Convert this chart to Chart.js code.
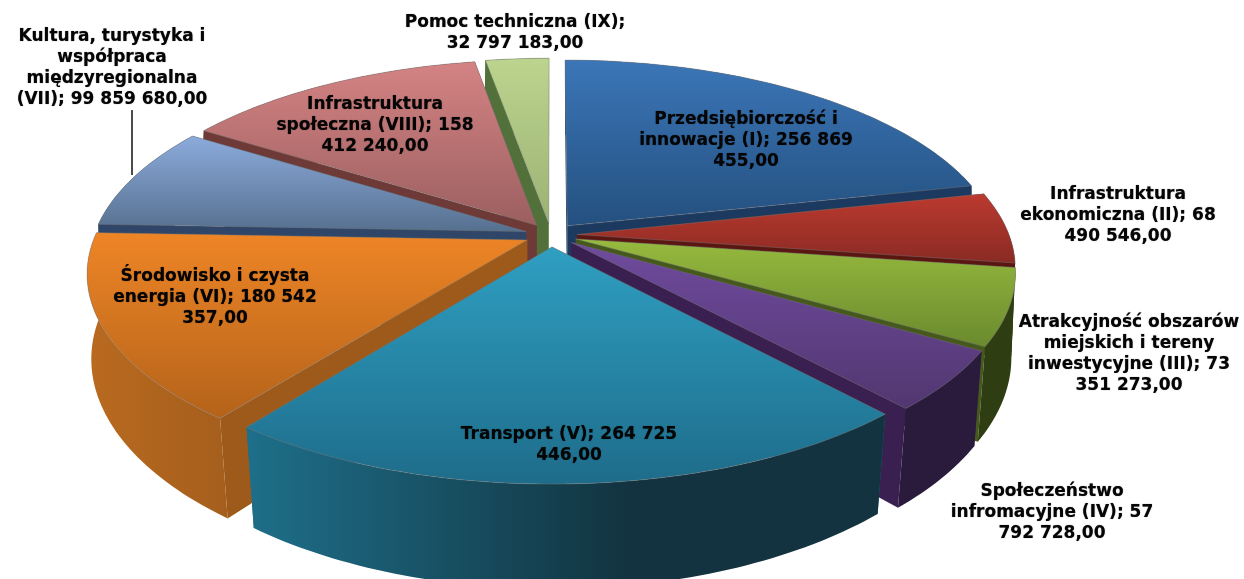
<!DOCTYPE html>
<html lang="pl">
<head>
<meta charset="utf-8">
<title>Alokacja środków</title>
<script src="https://cdn.jsdelivr.net/npm/chart.js@4"></script>
<style>
  html, body { margin: 0; padding: 0; background: #fff; overflow: hidden; }
  #chart { display: block; }
</style>
</head>
<body>
<canvas id="chart" width="1244" height="579"></canvas>
<script>
var categories = [
  "Przedsiębiorczość i innowacje (I)",
  "Infrastruktura ekonomiczna (II)",
  "Atrakcyjność obszarów miejskich i tereny inwestycyjne (III)",
  "Społeczeństwo infromacyjne (IV)",
  "Transport (V)",
  "Środowisko i czysta energia (VI)",
  "Kultura, turystyka i współpraca międzyregionalna (VII)",
  "Infrastruktura społeczna (VIII)",
  "Pomoc techniczna (IX)",
];
var values = [
  256869455, 68490546, 73351273, 57792728, 264725446, 180542357, 99859680,
  158412240, 32797183,
];

var labelLines = [
  ["Przedsiębiorczość i", "innowacje (I); 256 869", "455,00"],
  ["Infrastruktura", "ekonomiczna (II); 68", "490 546,00"],
  ["Atrakcyjność obszarów", "miejskich i tereny", "inwestycyjne (III); 73", "351 273,00"],
  ["Społeczeństwo", "infromacyjne (IV); 57", "792 728,00"],
  ["Transport (V); 264 725", "446,00"],
  ["Środowisko i czysta", "energia (VI); 180 542", "357,00"],
  ["Kultura, turystyka i", "współpraca", "międzyregionalna", "(VII); 99 859 680,00"],
  ["Infrastruktura", "społeczna (VIII); 158", "412 240,00"],
  ["Pomoc techniczna (IX);", "32 797 183,00"],
];
var labelX = [746, 1118, 1129, 1052, 569, 215, 112, 375, 515];
var labelY = [120, 195, 323, 492, 435, 277, 37, 105, 23];

var topLight = ["#3b76b8", "#bb3a2f", "#97ba3e", "#704b9e", "#2f9fc2", "#ee8526", "#8cabdc", "#d48383", "#bcd48e"];
var topDark = ["#24507f", "#8a2a24", "#6a8a2e", "#513770", "#1e6c8a", "#b4631a", "#56708f", "#9c5f60", "#9bb274"];
var cutColor = ["#1c3a60", "#5a1611", "#46591c", "#3a2050", "#1e6f8a", "#9e5a1a", "#2f4668", "#6d3a38", "#51703a"];
var wallLight = ["#1c3a60", "#5a1611", "#3f521a", "#33204a", "#1e6f8a", "#b96a1f", "#2f4668", "#6d3a38", "#51703a"];
var wallDark = ["#1c3a60", "#5a1611", "#2f3d12", "#2a1a3c", "#12333f", "#93541a", "#2f4668", "#6d3a38", "#51703a"];

// perspective of the pie plane, fitted to the picture
var centerX = 551;
var centerY = 235;
var radiusX = 432;
var radiusY = 195;
var tilt = 0.16;
var depth = 87;

function project(u, v) {
  var w = 1 - tilt * v;
  var shrink = 0.995 - 0.022 * v;
  return {
    x: centerX + (radiusX * u) / w,
    y: centerY + (radiusY * v) / w,
    bx: centerX + (shrink * radiusX * u) / w,
    by: centerY + (radiusY * v + depth) / w,
  };
}

function tracePoly(ctx, pts) {
  ctx.beginPath();
  pts.forEach(function (p, i) {
    if (i === 0) ctx.moveTo(p[0], p[1]);
    else ctx.lineTo(p[0], p[1]);
  });
  ctx.closePath();
}

function paintSlice(ctx, arc, i) {
  var explode = arc.options.offset / arc.outerRadius;
  var mid = (arc.startAngle + arc.endAngle) / 2;
  var ou = explode * Math.cos(mid);
  var ov = explode * Math.sin(mid);
  var apex = project(ou, ov);

  var rim = [];
  var steps = Math.ceil((arc.endAngle - arc.startAngle) / 0.02);
  for (var s = 0; s <= steps; s++) {
    var a = arc.startAngle + ((arc.endAngle - arc.startAngle) * s) / steps;
    rim.push(project(ou + Math.cos(a), ov + Math.sin(a)));
  }
  var first = rim[0];
  var last = rim[rim.length - 1];

  ctx.fillStyle = cutColor[i];
  tracePoly(ctx, [[apex.x, apex.y], [first.x, first.y], [first.bx, first.by], [apex.bx, apex.by]]);
  ctx.fill();
  tracePoly(ctx, [[apex.x, apex.y], [last.x, last.y], [last.bx, last.by], [apex.bx, apex.by]]);
  ctx.fill();

  var xs = rim.map(function (p) { return p.x; }).concat(apex.x);
  var ys = rim.map(function (p) { return p.y; }).concat(apex.y);

  var wall = ctx.createLinearGradient(Math.min.apply(null, xs), 0, Math.max.apply(null, xs), 0);
  wall.addColorStop(0, wallLight[i]);
  wall.addColorStop(0.6, wallDark[i]);
  wall.addColorStop(1, wallDark[i]);
  ctx.fillStyle = wall;
  tracePoly(
    ctx,
    rim.map(function (p) { return [p.x, p.y]; }).concat(
      rim.slice().reverse().map(function (p) { return [p.bx, p.by]; })
    )
  );
  ctx.fill();

  var face = ctx.createLinearGradient(0, Math.min.apply(null, ys), 0, Math.max.apply(null, ys));
  face.addColorStop(0, topLight[i]);
  face.addColorStop(1, topDark[i]);
  ctx.fillStyle = face;
  tracePoly(ctx, [[apex.x, apex.y]].concat(rim.map(function (p) { return [p.x, p.y]; })));
  ctx.fill();
  ctx.strokeStyle = "rgba(120, 120, 120, 0.45)";
  ctx.lineWidth = 1;
  ctx.stroke();
}

var pie3d = {
  id: "pie3d",
  beforeDatasetsDraw: function (chart) {
    var ctx = chart.ctx;
    var arcs = chart.getDatasetMeta(0).data.map(function (arc, i) {
      return { arc: arc, i: i, v: Math.sin((arc.startAngle + arc.endAngle) / 2) };
    });
    // back slices first so the front ones cover them
    arcs.sort(function (a, b) { return a.v - b.v; });
    ctx.save();
    arcs.forEach(function (o) { paintSlice(ctx, o.arc, o.i); });
    ctx.restore();
    return false;
  },
  afterDraw: function (chart) {
    var ctx = chart.ctx;
    ctx.save();
    ctx.strokeStyle = "#111";
    ctx.lineWidth = 1.5;
    ctx.beginPath();
    ctx.moveTo(132, 110);
    ctx.lineTo(132, 175);
    ctx.stroke();

    ctx.fillStyle = "#050505";
    ctx.shadowColor = "rgba(0, 0, 0, 0.6)";
    ctx.shadowBlur = 1;
    ctx.font = "bold 17px 'DejaVu Sans'";
    ctx.textAlign = "center";
    ctx.textBaseline = "middle";
    labelLines.forEach(function (lines, i) {
      lines.forEach(function (line, n) {
        ctx.fillText(line, labelX[i], labelY[i] + n * 21);
      });
    });
    ctx.restore();
  },
};

new Chart(document.getElementById("chart"), {
  type: "pie",
  data: {
    labels: categories,
    datasets: [{ data: values, backgroundColor: topLight, offset: 17, borderWidth: 0 }],
  },
  options: {
    responsive: false,
    animation: false,
    layout: { padding: 0 },
    plugins: { legend: { display: false }, tooltip: { enabled: false } },
  },
  plugins: [pie3d],
});
</script>
</body>
</html>
